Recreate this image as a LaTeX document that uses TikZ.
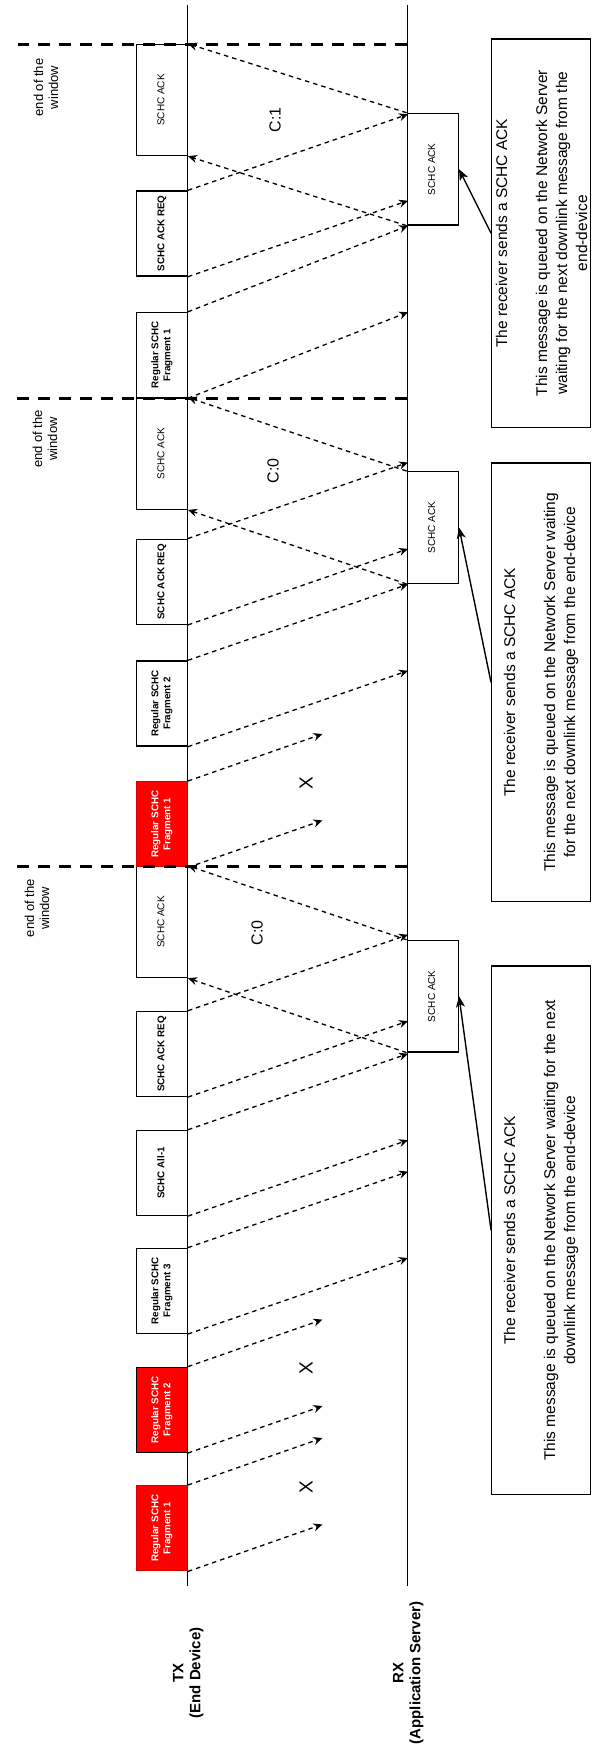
\documentclass[tikz,border=0pt]{standalone}
\usepackage{fontspec}
\setmainfont{Liberation Sans}
\usetikzlibrary{arrows.meta}
\definecolor{fragred}{HTML}{FF0000}
\definecolor{fragedge}{HTML}{D40000}
% vertical (rotated) centred text block
\newcommand{\vtext}[1]{\rotatebox{90}{\begin{tabular}{@{}c@{}}#1\end{tabular}}}
% uplink frame that reaches RX: start anchor, end coordinate name, optional rise
\newcommand{\sendmsg}[3][76]{\path (#2) ++(220,-#1) coordinate (#3); \draw[msg] (#2) -- (#3);}
% uplink frame lost on the way
\newcommand{\lostmsg}[2]{\path (#1) ++(134.4,-47) coordinate (#2); \draw[msg] (#1) -- (#2);}
\begin{document}
\begin{tikzpicture}[x=1pt, y=-1pt,
  lifeline/.style={line width=1.5pt},
  boxframe/.style={draw, line width=1.4pt, inner sep=0pt, minimum width=50.6pt},
  frag/.style={boxframe, fill=white, minimum height=85pt, font=\fontsize{9.8}{11.8}\selectfont\bfseries},
  lostfrag/.style={frag, fill=fragred, draw=fragedge, text=white},
  ackbox/.style={boxframe, fill=white, minimum height=111pt, font=\fontsize{10}{12}\selectfont},
  rxack/.style={boxframe, fill=white, minimum width=51pt, minimum height=111.5pt, font=\fontsize{10}{12}\selectfont},
  msg/.style={line width=1.3pt, dash pattern=on 4.5pt off 4pt, -{Stealth[length=9pt,width=8pt,inset=3pt]}},
  window/.style={line width=3.3pt, dash pattern=on 12pt off 9pt},
  note/.style={draw, line width=1.3pt, inner sep=0pt, minimum width=98.8pt},
  notetext/.style={inner sep=0pt, font=\fontsize{15.5}{20}\selectfont},
  pointer/.style={line width=1.4pt, -{Stealth[length=11pt,width=9pt,inset=3pt]}},
  winlabel/.style={rotate=90, align=center, font=\fontsize{13}{15}\selectfont},
  counter/.style={rotate=90, font=\fontsize{16}{19}\selectfont},
  loss/.style={rotate=90, font=\fontsize{19}{22}\selectfont},
  party/.style={rotate=90, align=center, font=\fontsize{15}{17}\selectfont\bfseries},
]
\useasboundingbox (0,0) rectangle (592,1747);

% lifelines
\coordinate (txtop) at (187.3,5);   \coordinate (txbot) at (187.3,1586);
\coordinate (rxtop) at (407.3,5);   \coordinate (rxbot) at (407.3,1586);
\draw[lifeline] (txtop) -- (txbot);
\draw[lifeline] (rxtop) -- (rxbot);

\node[party] (txlabel) at (188.3,1673) {TX\\(End Device)};
\node[party] (rxlabel) at (408.3,1673) {RX\\(Application Server)};

% ---------- window 0 ----------
\node[lostfrag] (w1f1) at (162,1528.2) {\vtext{Regular SCHC\\Fragment 1}};
\node[lostfrag, draw=black] (w1f2) at (162,1409.8) {\vtext{Regular SCHC\\Fragment 2}};
\node[frag] (w1f3) at (162,1290.8) {\vtext{Regular SCHC\\Fragment 3}};
\node[frag] (w1all) at (162,1172.9) {\vtext{SCHC All-1}};
\node[frag] (w1req) at (162,1053.9) {\vtext{SCHC ACK REQ}};
\node[ackbox] (w1ack) at (162,922) {\vtext{SCHC ACK}};
\node[rxack] (r1) at (432.8,996.2) {\vtext{SCHC ACK}};

\lostmsg{w1f1.south east}{l1a}
\lostmsg{w1f1.north east}{l1b}
\lostmsg{w1f2.south east}{l1c}
\lostmsg{w1f2.north east}{l1d}
\node[loss] (x1a) at (306,1487.3) {X};
\node[loss] (x1b) at (306,1368.3) {X};
\sendmsg{w1f3.south east}{s1a}
\sendmsg{w1f3.north east}{s1b}
\sendmsg{w1all.south east}{s1c}
\sendmsg{w1all.north east}{s1d}
\sendmsg{w1req.south east}{s1e}
\sendmsg{w1req.north east}{s1f}
\draw[msg] (r1.south west) -- (w1ack.south east);
\draw[msg] (r1.north west) -- (w1ack.north east);
\node[counter] (c1) at (257,933) {C:0};

% ---------- window 1 ----------
\node[lostfrag] (w2f1) at (162,824.2) {\vtext{Regular SCHC\\Fragment 1}};
\node[frag] (w2f2) at (162,703.5) {\vtext{Regular SCHC\\Fragment 2}};
\node[frag] (w2req) at (162,581.7) {\vtext{SCHC ACK REQ}};
\node[ackbox] (w2ack) at (162,453.7) {\vtext{SCHC ACK}};
\node[rxack] (r2) at (432.8,527.5) {\vtext{SCHC ACK}};

\lostmsg{w2f1.south east}{l2a}
\lostmsg{w2f1.north east}{l2b}
\node[loss] (x2) at (306,782.7) {X};
\sendmsg{w2f2.south east}{s2a}
\sendmsg{w2f2.north east}{s2b}
\sendmsg{w2req.south east}{s2c}
\sendmsg{w2req.north east}{s2d}
\draw[msg] (r2.south west) -- (w2ack.south east);
\draw[msg] (r2.north west) -- (w2ack.north east);
\node[counter] (c2) at (273,471) {C:0};

% ---------- window 2 ----------
\node[frag] (w3f1) at (162,355) {\vtext{Regular SCHC\\Fragment 1}};
\node[frag] (w3req) at (162,233.5) {\vtext{SCHC ACK REQ}};
\node[ackbox] (w3ack) at (162,100) {\vtext{SCHC ACK}};
\node[rxack] (r3) at (432.8,169.2) {\vtext{SCHC ACK}};

\sendmsg[86]{w3f1.south east}{s3a}
\sendmsg[86]{w3f1.north east}{s3b}
\sendmsg{w3req.south east}{s3c}
\sendmsg{w3req.north east}{s3d}
\draw[msg] (r3.south west) -- (w3ack.south east);
\draw[msg] (r3.north west) -- (w3ack.north east);
\node[counter] (c3) at (275,120) {C:1};

% window boundaries
\coordinate (d1r) at (407.3,866.7); \coordinate (d1l) at (11.7,866.7);
\coordinate (d2r) at (407.3,398.3); \coordinate (d2l) at (10,398.3);
\coordinate (d3r) at (407.3,44.3);  \coordinate (d3l) at (18,44.3);
\draw[window] (d1r) -- (d1l);
\draw[window] (d2r) -- (d2l);
\draw[window] (d3r) -- (d3l);
\node[winlabel] (eow1) at (37,908.3) {end of the\\window};
\node[winlabel] (eow2) at (45,439) {end of the\\window};
\node[winlabel] (eow3) at (46,87.5) {end of the\\window};

% notes on the queued downlink ACKs
\node[note, minimum height=528.3pt] (n1) at (541.1,1230.2) {};
\node[notetext] (n1t) at (n1.center) {\vtext{The receiver sends a SCHC ACK\\[20pt]This message is queued on the Network Server waiting for the next\\downlink message from the end-device}};
\node[note, minimum height=438.7pt] (n2) at (541.1,682.4) {};
\node[notetext] (n2t) at (n2.center) {\vtext{The receiver sends a SCHC ACK\\[20pt]This message is queued on the Network Server waiting\\for the next downlink message from the end-device}};
\node[note, minimum height=388.3pt] (n3) at (541.1,233.2) {};
\node[notetext] (n3t) at ([xshift=2pt]n3.center) {\vtext{The receiver sends a SCHC ACK\\[20pt]This message is queued on the Network Server\\waiting for the next downlink message from the\\end-device}};
\draw[pointer] (n1.west) -- (r1.east);
\draw[pointer] (n2.west) -- (r2.east);
\draw[pointer] (n3.west) -- (r3.east);
\end{tikzpicture}
\end{document}
